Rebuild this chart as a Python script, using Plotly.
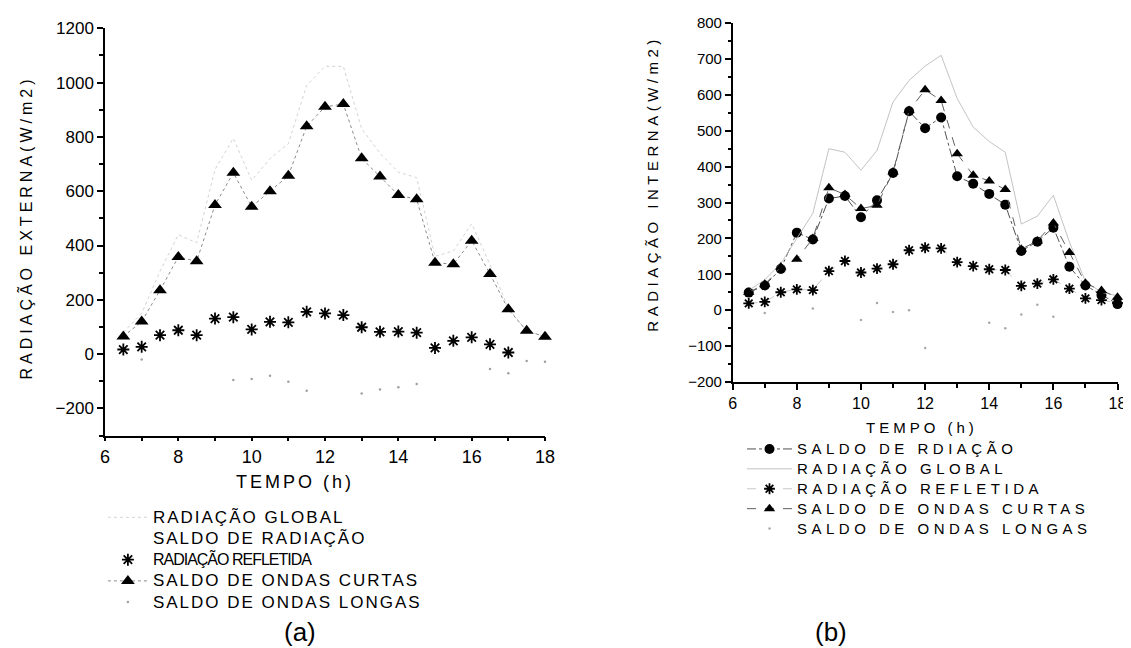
import plotly.graph_objects as go

# ---------------- data ----------------
tempo = [6.5, 7, 7.5, 8, 8.5, 9, 9.5, 10, 10.5, 11, 11.5, 12,
         12.5, 13, 13.5, 14, 14.5, 15, 15.5, 16, 16.5, 17, 17.5, 18]

# (a) external radiation
global_a = [80, 150, 305, 440, 410, 680, 795, 640, 720, 775, 990, 1060,
            1060, 830, 740, 670, 650, 360, 380, 480, 330, 170, 85, 65]
saldo_rad_a = [None]
refletida_a = [17, 27, 70, 88, 70, 131, 136, 91, 119, 117, 156, 150,
               144, 99, 82, 83, 79, 23, 49, 62, 36, 6, None, None]
curtas_a = [65, 120, 235, 358, 342, 549, 668, 543, 600, 657, 839, 911,
            921, 721, 654, 586, 570, 337, 331, 418, 295, 165, 86, 64]
longas_a = [None, -20, None, None, None, None, -95, -92, -80, -102, -135, None,
            None, -145, -130, -122, -110, None, None, None, -55, -70, -25, -28]

# (b) internal radiation
saldo_rad_b = [49, 69, 115, 216, 197, 311, 318, 259, 306, 382, 554, 507,
               537, 373, 352, 324, 294, 165, 191, 230, 121, 69, 42, 17]
global_b = [55, 85, 130, 200, 270, 450, 440, 390, 445, 580, 640, 680,
            710, 590, 510, 470, 440, 240, 262, 320, 190, 80, 50, 40]
refletida_b = [19, 23, 50, 58, 56, 109, 137, 105, 116, 128, 167, 174,
               172, 134, 123, 114, 112, 68, 74, 86, 60, 33, 28, 20]
curtas_b = [50, 72, 120, 142, 200, 341, 322, 283, 292, 385, 556, 614,
            584, 436, 376, 360, 336, 170, 193, 243, 161, 75, 55, 36]
longas_b = [None, -8, None, None, 5, None, None, -27, 20, -5, 0, -105,
            None, None, None, -35, -50, -12, 15, -18, None, None, None, None]

xticks = [6, 8, 10, 12, 14, 16, 18]
yticks_a = [-200, 0, 200, 400, 600, 800, 1000, 1200]
yticks_b = [-200, -100, 0, 100, 200, 300, 400, 500, 600, 700, 800]

FONT = "Arial, Liberation Sans, sans-serif"

# figure size chosen so that the page (with the browser's 8px body margin) fits the window
W, H, OFF = 1123, 640, 8


def px(x):
    return (x - OFF) / W


def py(y):
    return 1 - (y - OFF) / H


def la(txt):
    return '<span style="font-size:17px;letter-spacing:2px">%s</span>' % txt


def lb(txt):
    return '<span style="font-size:15px;letter-spacing:4.5px">%s</span>' % txt


fig = go.Figure()

# ---- panel (a)
fig.add_trace(go.Scatter(x=tempo, y=global_a, mode="lines", name=la("RADIAÇÃO GLOBAL"),
                         line=dict(color="#d2d2d2", width=1, dash="dot"),
                         xaxis="x", yaxis="y", legend="legend", cliponaxis=False))
fig.add_trace(go.Scatter(x=[None], y=saldo_rad_a, mode="lines", name=la("SALDO DE RADIAÇÃO"),
                         line=dict(color="rgba(0,0,0,0)", width=1),
                         xaxis="x", yaxis="y", legend="legend"))
fig.add_trace(go.Scatter(x=tempo, y=refletida_a, mode="markers",
                         name='<span style="font-size:16px;letter-spacing:-1px">RADIAÇÃO REFLETIDA</span>',
                         marker=dict(symbol="asterisk-open", size=10, color="black",
                                     line=dict(color="black", width=1.8)),
                         xaxis="x", yaxis="y", legend="legend", cliponaxis=False))
fig.add_trace(go.Scatter(x=tempo, y=curtas_a, mode="lines+markers", name=la("SALDO DE ONDAS CURTAS"),
                         line=dict(color="#8a8a8a", width=1, dash="dot"),
                         marker=dict(symbol="triangle-up", size=12, color="black"),
                         xaxis="x", yaxis="y", legend="legend", cliponaxis=False))
fig.add_trace(go.Scatter(x=tempo, y=longas_a, mode="markers", name=la("SALDO DE ONDAS LONGAS"),
                         marker=dict(symbol="circle", size=2.5, color="#a0a0a0"),
                         xaxis="x", yaxis="y", legend="legend", cliponaxis=False))

# ---- panel (b)
fig.add_trace(go.Scatter(x=tempo, y=saldo_rad_b, mode="lines+markers", name=lb("SALDO DE RDIAÇÃO"),
                         line=dict(color="#505050", width=1, dash="dashdot"),
                         marker=dict(symbol="circle", size=10, color="black"),
                         xaxis="x2", yaxis="y2", legend="legend2", cliponaxis=False))
fig.add_trace(go.Scatter(x=tempo, y=global_b, mode="lines", name=lb("RADIAÇÃO GLOBAL"),
                         line=dict(color="#bcbcbc", width=0.9),
                         xaxis="x2", yaxis="y2", legend="legend2", cliponaxis=False))
fig.add_trace(go.Scatter(x=tempo, y=refletida_b, mode="lines+markers", name=lb("RADIAÇÃO REFLETIDA"),
                         line=dict(color="#c8c8c8", width=1, dash="dash"),
                         marker=dict(symbol="asterisk-open", size=9, color="black",
                                     line=dict(color="black", width=1.8)),
                         xaxis="x2", yaxis="y2", legend="legend2", cliponaxis=False))
fig.add_trace(go.Scatter(x=tempo, y=curtas_b, mode="lines+markers", name=lb("SALDO DE ONDAS CURTAS"),
                         line=dict(color="#606060", width=1, dash="dash"),
                         marker=dict(symbol="triangle-up", size=10, color="black"),
                         xaxis="x2", yaxis="y2", legend="legend2", cliponaxis=False))
fig.add_trace(go.Scatter(x=tempo, y=longas_b, mode="markers", name=lb("SALDO DE ONDAS LONGAS"),
                         marker=dict(symbol="circle", size=2.5, color="#a8a8a8"),
                         xaxis="x2", yaxis="y2", legend="legend2", cliponaxis=False))

axis_common = dict(showline=True, linecolor="black", linewidth=1.5, showgrid=False,
                   zeroline=False, ticks="outside", tickcolor="black", tickwidth=1.5,
                   fixedrange=True, automargin=False, ticklabeloverflow="allow")

fig.update_layout(
    template="none",
    width=W, height=H,
    margin=dict(l=0, r=0, t=0, b=0, pad=0, autoexpand=False),
    paper_bgcolor="white", plot_bgcolor="white",
    font=dict(family=FONT, color="black"),
    xaxis=dict(domain=[px(105), px(545)], range=[6, 18], tickvals=xticks, ticklen=4,
               tickfont=dict(size=18), anchor="y",
               minor=dict(dtick=1, tick0=6, ticks="outside", ticklen=4, tickcolor="black"),
               **axis_common),
    yaxis=dict(domain=[py(435.6), py(28.3)], range=[-300, 1200], tickvals=yticks_a, ticklen=6,
               tickfont=dict(size=17), anchor="x",
               minor=dict(dtick=100, tick0=0, ticks="outside", ticklen=4, tickcolor="black"),
               **axis_common),
    xaxis2=dict(domain=[px(732.7), px(1117.5)], range=[6, 18], tickvals=xticks, ticklen=6,
                tickfont=dict(size=16), anchor="y2",
                minor=dict(dtick=1, tick0=6, ticks="outside", ticklen=4, tickcolor="black"),
                **axis_common),
    yaxis2=dict(domain=[py(382), py(23)], range=[-200, 800], tickvals=yticks_b, ticklen=6,
                tickfont=dict(size=15), anchor="x2",
                minor=dict(dtick=50, tick0=0, ticks="outside", ticklen=3, tickcolor="black"),
                **axis_common),
    legend=dict(x=px(102.9), y=py(501.7), xanchor="left", yanchor="top", bgcolor="rgba(0,0,0,0)",
                font=dict(size=14, family=FONT, color="black"), itemwidth=40,
                traceorder="normal", borderwidth=0),
    legend2=dict(x=px(742), y=py(434), xanchor="left", yanchor="top", bgcolor="rgba(0,0,0,0)",
                 font=dict(size=13, family=FONT, color="black"), itemwidth=45,
                 traceorder="normal", borderwidth=0),
    annotations=[
        dict(text='<span style="letter-spacing:4px">RADIAÇÃO EXTERNA(W/m2)</span>',
             x=px(25), y=py(227.5), textangle=-90),
        dict(text='<span style="letter-spacing:3px">TEMPO (h)</span>',
             x=px(295), y=py(481.7), font=dict(size=18)),
        dict(text="(a)", x=px(300), y=py(632), font=dict(size=26)),
        dict(text='<span style="letter-spacing:4.5px">RADIAÇÃO INTERNA(W/m2)</span>',
             x=px(651.7), y=py(183), textangle=-90, font=dict(size=15)),
        dict(text='<span style="letter-spacing:4px">TEMPO (h)</span>',
             x=px(922), y=py(427.7), font=dict(size=15)),
        dict(text="(b)", x=px(831), y=py(632), font=dict(size=26)),
    ],
)
fig.update_annotations(xref="paper", yref="paper", xanchor="center", yanchor="middle",
                       showarrow=False)
fig.layout.annotations[0].font = dict(size=16)

fig.write_html("out.html")
